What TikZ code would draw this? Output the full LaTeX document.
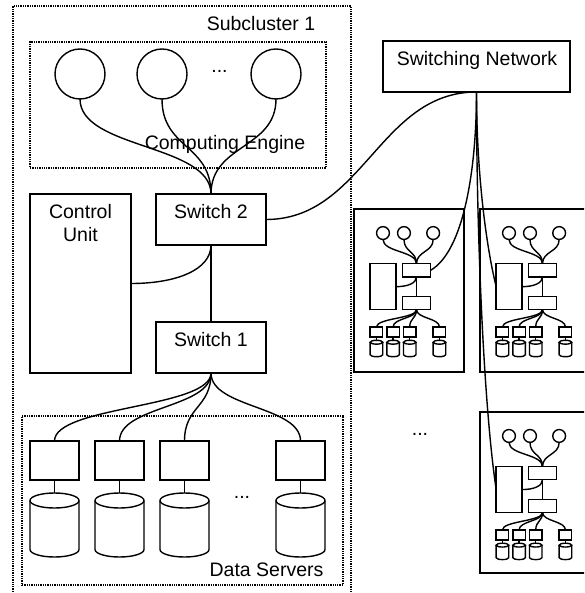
\documentclass[tikz,border=0pt]{standalone}
\usepackage{fontspec}
\setmainfont{Liberation Sans}
\begin{document}
\begin{tikzpicture}[x=1pt, y=-1pt, line width=1.4pt,
  cpu/.style={circle, draw, inner sep=0pt, outer sep=0pt},
  unitbox/.style={rectangle, draw, inner sep=0pt, outer sep=0pt},
  group/.style={draw, line width=2.2pt, dash pattern=on 1.3pt off 1pt},
  lbl/.style={inner sep=0pt, anchor=base, font=\fontsize{19.5}{23}\selectfont},
  link/.style={line width=1.4pt}]

\path[use as bounding box, clip] (0,0) rectangle (584,593);

% One subcluster: processors, control unit, two switches and data servers.
% #1 name prefix, #2/#3 offset, #4 scale factor
\newcommand\subclusterparts[4]{%
\begin{scope}[shift={(#2,#3)}, x=#4pt, y=-#4pt]
  \node[cpu, minimum size={#4*50pt}] (#1-c1) at (80,74) {};
  \node[cpu, minimum size={#4*50pt}] (#1-c2) at (162,74) {};
  \node[cpu, minimum size={#4*50pt}] (#1-c3) at (276,74) {};
  \node[unitbox, minimum width={#4*110pt}, minimum height={#4*51pt}] (#1-sw2) at (211,219.5) {};
  \node[unitbox, minimum width={#4*110pt}, minimum height={#4*51pt}] (#1-sw1) at (211,347.5) {};
  \node[unitbox, minimum width={#4*101pt}, minimum height={#4*179pt}] (#1-cu) at (80.5,283.5) {};
  \foreach \i/\xx in {1/54.5, 2/119.5, 3/184.5, 4/300.5} {
    \node[unitbox, minimum width={#4*49pt}, minimum height={#4*39pt}] (#1-d\i) at (\xx,460.5) {};
    \coordinate (#1-db\i) at (\xx,493);
    % disk: top ellipse, sides and lower half-ellipse
    \draw (\xx,500.5) ellipse [x radius={#4*24.5pt}, y radius={#4*7.5pt}];
    \draw (\xx-24.5,500.5) -- (\xx-24.5,549.5)
      .. controls (\xx-24.5,553.64) and (\xx-13.53,557) .. (\xx,557)
      .. controls (\xx+13.53,557) and (\xx+24.5,553.64) .. (\xx+24.5,549.5)
      -- (\xx+24.5,500.5);
    \draw[link] (#1-d\i.south) -- (#1-db\i);
    \draw[link] (#1-sw1.south) .. controls +(0,35) and +(0,-35) .. (#1-d\i.north);
  }
  \foreach \c in {c1,c2,c3}
    \draw[link] (#1-\c.south) .. controls +(0,50) and +(0,-50) .. (#1-sw2.north);
  \draw[link] (#1-cu.east) .. controls +(45,0) and +(0,25) .. (#1-sw2.south);
  \draw[link] (#1-sw2.south) -- (#1-sw1.north);
\end{scope}}

% Subcluster 1 in full detail
\node[group, minimum width=338pt, minimum height=600pt, inner sep=0pt] (sub) at (182,306) {};
\node[group, minimum width=296pt, minimum height=126pt, inner sep=0pt] (eng) at (178,105) {};
\node[group, minimum width=321pt, minimum height=169pt, inner sep=0pt] (srv) at (182.5,500.5) {};
\subclusterparts{s}{0}{0}{1}

\node[lbl] (subname) at (261,31) {Subcluster 1};
\node[lbl] (engname) at (225,150) {Computing Engine};
\node[lbl] (engdots) at (219.5,73) {...};
\node[lbl] (sw2name) at (211,219) {Switch 2};
\node[lbl] (sw1name) at (211,346.7) {Switch 1};
\node[lbl] (cuname1) at (80.5,219) {Control};
\node[lbl] (cuname2) at (80.5,241.7) {Unit};
\node[lbl] (srvdots) at (242,498) {...};
\node[lbl] (srvname) at (266.5,576.7) {Data Servers};

% Switching network
\node[unitbox, minimum width=187pt, minimum height=51pt] (net) at (476.5,66.5) {};
\node[lbl] (netname) at (477,66) {Switching Network};

% Further subclusters in miniature
\node[unitbox, minimum width=110pt, minimum height=163pt] (m1) at (409,290.5) {};
\node[unitbox, minimum width=110pt, minimum height=163pt] (m2) at (535,290.5) {};
\node[unitbox, minimum width=110pt, minimum height=161pt] (m3) at (535,492.5) {};
\subclusterparts{m1}{362.5}{214.1}{0.256}
\subclusterparts{m2}{488.5}{214.1}{0.256}
\subclusterparts{m3}{488.5}{417}{0.256}
\node[lbl] (moredots) at (420,435) {...};

% Links to the switching network
\draw[link] (s-sw2.east) .. controls +(97,0) and +(-97,0) .. (net.south);
\draw[link] (net.south) .. controls +(0,78) and +(33,-19) .. (m1-sw2.east);
\draw[link] (net.south) .. controls +(0,80) and +(-10,-40) .. (m2-cu.west);
\draw[link] (net.south) .. controls +(0,150) and +(-12,-80) .. (m3-cu.west);
\end{tikzpicture}
\end{document}
